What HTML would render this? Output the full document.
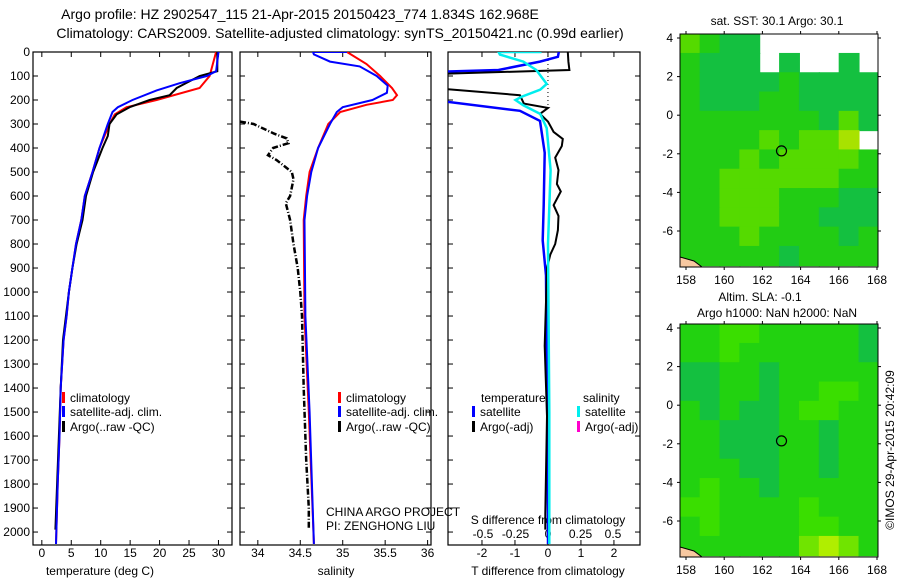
<!DOCTYPE html>
<html><head><meta charset="utf-8"><style>
body{margin:0;background:#fff}
svg{display:block;font-family:"Liberation Sans",sans-serif}
text{font-size:12px;fill:#000}
</style></head><body>
<svg id="c" width="900" height="580" viewBox="0 0 900 580">
<text x="300" y="19" text-anchor="middle" style="font-size:14px">Argo profile: HZ 2902547_115 21-Apr-2015 20150423_774 1.834S 162.968E</text>
<text x="340" y="38" text-anchor="middle" style="font-size:14px">Climatology: CARS2009. Satellite-adjusted climatology: synTS_20150421.nc (0.99d earlier)</text>
<text x="100" y="575" text-anchor="middle">temperature (deg C)</text>
<text x="336" y="575" text-anchor="middle">salinity</text>
<text x="548" y="575" text-anchor="middle">T difference from climatology</text>
<text x="548" y="524" text-anchor="middle">S difference from climatology</text>
<text x="326" y="516">CHINA ARGO PROJECT</text>
<text x="326" y="530">PI: ZENGHONG LIU</text>
<text x="777" y="25" text-anchor="middle">sat. SST: 30.1 Argo: 30.1</text>
<text x="760" y="301" text-anchor="middle">Altim. SLA: -0.1</text>
<text x="777" y="317" text-anchor="middle">Argo h1000: NaN h2000: NaN</text>
<text transform="translate(894,450) rotate(-90)" text-anchor="middle">©IMOS 29-Apr-2015 20:42:09</text>
</svg>
<script>
// ---------- data ----------
const depthTicks=[0,100,200,300,400,500,600,700,800,900,1000,1100,1200,1300,1400,1500,1600,1700,1800,1900,2000];
const tTicks=[0,5,10,15,20,25,30];
const sTicks=[34,34.5,35,35.5,36];
const sTickLabels=["34","34.5","35","35.5","36"];
const dtTicks=[-2,-1,0,1,2];
const dsTicks=[-0.5,-0.25,0,0.25,0.5];
const dsTickLabels=["-0.5","-0.25","0","0.25","0.5"];

const climTDepth=[0,100,150,200,230,260,300,400,500,600,700,800,900,1000,1100,1200,1400,1600,1800,2050];
const climT=[29.6,28.5,26.8,19.5,14.4,12.4,11.5,9.8,8.6,7.3,6.7,5.8,5.2,4.6,4.2,3.7,3.2,3.0,2.7,2.4];
const satTDepth=[0,80,100,130,160,200,230,250,300,400,500,600,700,800,900,1000,1100,1200,1400,1600,1800,2050];
const satT=[30.0,29.6,28.0,23.4,19.5,15.4,12.9,12.0,11.2,9.8,8.6,7.3,6.7,5.8,5.2,4.6,4.2,3.7,3.2,3.0,2.7,2.4];
const argoTDepth=[0,80,100,150,180,200,230,260,300,350,400,500,600,700,800,900,1000,1200,1400,1600,1800,1990];
const argoT=[29.8,29.8,26.8,22.9,21.7,18.3,14.9,12.7,11.5,11.2,10.3,8.7,7.5,6.9,5.9,5.2,4.6,3.6,3.2,2.9,2.6,2.3];

const climSDepth=[0,50,100,150,180,200,220,250,300,400,500,600,700,1100,1500,2050];
const climS=[35.05,35.28,35.44,35.58,35.64,35.59,35.28,34.97,34.83,34.71,34.61,34.57,34.54,34.55,34.60,34.66];
const satSDepth=[0,0,10,40,60,100,140,170,200,230,250,300,400,500,600,700,1100,1500,2050];
const satS=[35.05,34.65,34.66,34.85,35.2,35.4,35.53,35.52,35.35,35.0,34.93,34.85,34.71,34.63,34.58,34.55,34.56,34.61,34.66];
const argoSDepth=[290,300,340,360,380,400,430,450,500,530,600,630,700,800,900,1000,1100,1400,1700,1900,1990];
const argoS=[33.79,33.95,34.19,34.34,34.36,34.18,34.12,34.22,34.4,34.42,34.38,34.33,34.38,34.42,34.47,34.5,34.52,34.54,34.57,34.6,34.6];

const dTsatDepth=[0,20,40,75,83,120,200,245,287,420,637,785,931,1370,1954,2050];
const dTsat=[0.33,0.3,-0.24,-1.5,-3.5,-3.5,-3.5,-0.85,-0.24,-0.1,-0.13,-0.16,-0.06,-0.03,0,0];
const dTargoDepth=[0,40,75,92,150,180,215,233,258,290,333,362,392,440,492,550,581,638,683,742,800,844,900,1224,1517,1925,1990];
const dTargo=[0.6,0.62,0.65,-3.5,-3.5,-0.85,-0.73,0,-0.24,0,0.17,0.45,0.42,0.22,0.32,0.27,0.39,0.17,0.32,0.3,0.22,0.07,-0.03,-0.1,-0.03,-0.08,-0.08];
const dSsatDepth=[0,0,11,40,75,133,157,186,200,222,258,317,492,800,1500,2050];
const dSsat=[-0.05,-0.38,-0.37,-0.19,-0.09,-0.01,-0.06,-0.2,-0.25,-0.19,-0.06,-0.01,0.02,0.0,0.01,0.01];

const mapLonTicks=[158,160,162,164,166,168];
const mapLatTicks=[4,2,0,-2,-4,-6];
const sstGrid=[
[3,2,1,1,0,0,0,0,0,0],
[2,1,1,1,0,1,0,0,1,0],
[2,1,1,1,1,2,1,1,1,1],
[2,1,1,1,2,2,1,1,1,1],
[2,2,2,2,2,2,2,1,3,1],
[2,2,2,2,3,2,3,3,4,0],
[2,2,2,3,2,3,3,3,3,2],
[2,2,3,3,3,3,3,3,2,2],
[2,2,3,3,3,2,2,2,1,1],
[2,2,3,3,3,2,2,1,1,1],
[2,2,2,3,2,2,2,2,1,2],
[2,2,2,2,2,1,2,2,2,2]];
const slaGrid=[
[2,2,3,3,2,2,2,2,2,1],
[2,2,3,2,2,2,2,2,2,1],
[1,1,2,2,1,2,2,2,2,2],
[1,1,2,2,1,2,2,3,3,2],
[2,1,2,1,1,2,3,3,2,2],
[2,2,1,1,1,2,2,1,2,2],
[2,2,1,1,1,2,2,1,2,2],
[2,2,2,1,1,2,2,1,2,2],
[2,3,2,2,1,2,2,2,2,2],
[3,3,2,2,2,2,3,2,2,2],
[2,3,2,2,2,2,3,3,2,2],
[2,2,2,2,2,2,4,5,4,2]];
const argoLon=163.0, argoLat=-1.85;

// ---------- drawing ----------
const svg=document.getElementById('c');
const NS='http://www.w3.org/2000/svg';
function el(tag,at,parent){const e=document.createElementNS(NS,tag);for(const k in at)e.setAttribute(k,at[k]);(parent||svg).appendChild(e);return e;}
const Y0=52,Y1=545,DMAX=2054;
const yD=d=>Y0+(d/DMAX)*(Y1-Y0);
function lin(d0,d1,r0,r1){return v=>r0+(v-d0)/(d1-d0)*(r1-r0);}

function panel(name,x0,x1,xs,ticks,labels,dy){
  const g=el('g',{});
  
  
  el('rect',{x:x0,y:Y0,width:x1-x0,height:Y1-Y0,fill:'none',stroke:'#000','stroke-width':1.2},g);
  depthTicks.forEach(d=>{const y=yD(d);
    el('line',{x1:x0,x2:x0+5,y1:y,y2:y,stroke:'#000'},g);
    el('line',{x1:x1-5,x2:x1,y1:y,y2:y,stroke:'#000'},g);});
  ticks.forEach((t,i)=>{const x=xs(t);
    el('line',{x1:x,x2:x,y1:Y1,y2:Y1-5,stroke:'#000'},g);
    el('line',{x1:x,x2:x,y1:Y0,y2:Y0+5,stroke:'#000'},g);
    const tx=el('text',{x:x,y:dy,'text-anchor':'middle'},g);tx.textContent=labels[i];});
  return g;
}
function line(g,name,xs,vals,deps,color,w,dash){
  const p=el('polyline',{points:vals.map((v,i)=>xs(v).toFixed(1)+','+yD(deps[i]).toFixed(1)).join(' '),fill:'none',stroke:color,'stroke-width':w},g);
  if(dash)p.setAttribute('stroke-dasharray',dash);
  
  
}
function clip(id,x0,x1){const c=el('clipPath',{id:id});el('rect',{x:x0,y:Y0,width:x1-x0,height:Y1-Y0},c);return 'url(#'+id+')';}

depthTicks.forEach(d=>{const t=el('text',{x:30,y:yD(d)+4,'text-anchor':'end'});t.textContent=d;
  
  });

const xT=lin(-1.5,32.3,33,232);
const p1=panel('temperature-panel',33,232,xT,tTicks,tTicks.map(String),557);
const g1=el('g',{'clip-path':clip('c1',33,232)},p1);
line(g1,'clim-temperature-line',xT,climT,climTDepth,'#f00',2);
line(g1,'argo-temperature-line',xT,argoT,argoTDepth,'#000',2);
line(g1,'sat-temperature-line',xT,satT,satTDepth,'#00f',2);

const xS=lin(33.79,36.04,240,431);
const p2=panel('salinity-panel',240,431,xS,sTicks,sTickLabels,557);
const g2=el('g',{'clip-path':clip('c2',240,431)},p2);
line(g2,'clim-salinity-line',xS,climS,climSDepth,'#f00',2);
line(g2,'sat-salinity-line',xS,satS,satSDepth,'#00f',2);
line(g2,'argo-salinity-line',xS,argoS,argoSDepth,'#000',2.5,'6 2 1 2');

const xDT=lin(-3.03,2.79,448,640);
const xDS=v=>548+v*130;
const p3=panel('difference-panel',448,640,xDT,dtTicks,dtTicks.map(String),557);
dsTicks.forEach((t,i)=>{const tx=el('text',{x:xDS(t),y:538,'text-anchor':'middle'},p3);tx.textContent=dsTickLabels[i];});
const g3=el('g',{'clip-path':clip('c3',448,640)},p3);
el('line',{x1:xDT(0),x2:xDT(0),y1:Y0,y2:yD(230),stroke:'#000','stroke-dasharray':'1 3'},g3);
line(g3,'sat-t-diff-line',xDT,dTsat,dTsatDepth,'#00f',2.5);
line(g3,'argo-t-diff-line',xDT,dTargo,dTargoDepth,'#000',2);
line(g3,'sat-s-diff-line',xDS,dSsat,dSsatDepth,'#0ee',2.5);

function legend(x,y,color,label,name){
  const g=el('g',{});
  
  
  el('rect',{x:x,y:y-9,width:3,height:11,fill:color},g);
  const t=el('text',{x:x+8,y:y+1},g);t.textContent=label;
}
legend(62,401,'#f00','climatology','legend-climatology');
legend(62,415,'#00f','satellite-adj. clim.','legend-satellite-adj');
legend(62,430,'#000','Argo(..raw -QC)','legend-argo');
legend(338,401,'#f00','climatology','legend2-climatology');
legend(338,415,'#00f','satellite-adj. clim.','legend2-satellite-adj');
legend(338,430,'#000','Argo(..raw -QC)','legend2-argo');
(()=>{const t=el('text',{x:481,y:402});t.textContent='temperature';
 const t2=el('text',{x:583,y:402});t2.textContent='salinity';})();
legend(472,415,'#00f','satellite','legend-t-satellite');
legend(472,430,'#000','Argo(-adj)','legend-t-argo');
legend(577,415,'#0ee','satellite','legend-s-satellite');
legend(577,430,'#f0c','Argo(-adj)','legend-s-argo');

function map(name,top,grid,colors){
  const x0=680,x1=878,bottom=top+233;
  const xL=lin(158,168,686,877);
  const yL=lin(4,-6,top+4,top+197);
  const g=el('g',{});
  
  
  const cid='m'+top;const c=el('clipPath',{id:cid});el('rect',{x:x0,y:top,width:x1-x0,height:bottom-top},c);
  const gg=el('g',{'clip-path':'url(#'+cid+')'},g);
  grid.forEach((row,r)=>row.forEach((v,ci)=>{
    if(!v)return;
    const lx=157.7+ci*1.04, la=4.2-r;
    const rc=el('rect',{x:xL(lx)-0.5,y:yL(la)-0.5,width:xL(lx+1.04)-xL(lx)+1,height:yL(la-1)-yL(la)+1,fill:colors[v]},gg);
    
    
  }));
  el('polygon',{points:`${x0},${bottom-10} ${x0+14},${bottom-6} ${x0+22},${bottom} ${x0},${bottom}`,fill:'#f8c8a0',stroke:'#000','stroke-width':1},gg);
  el('rect',{x:x0,y:top,width:x1-x0,height:bottom-top,fill:'none',stroke:'#000'},g);
  const ci=el('circle',{cx:xL(argoLon),cy:yL(argoLat),r:5,fill:'none',stroke:'#000','stroke-width':1.2},g);
  
  
  mapLonTicks.forEach(t=>{const x=xL(t);
    el('line',{x1:x,x2:x,y1:top,y2:top-3,stroke:'#000'},g);
    el('line',{x1:x,x2:x,y1:bottom,y2:bottom+3,stroke:'#000'},g);
    const tx=el('text',{x:x,y:bottom+17,'text-anchor':'middle'},g);tx.textContent=t;});
  mapLatTicks.forEach(t=>{const y=yL(t);
    el('line',{x1:x0,x2:x0-3,y1:y,y2:y,stroke:'#000'},g);
    el('line',{x1:x1,x2:x1+3,y1:y,y2:y,stroke:'#000'},g);
    const tx=el('text',{x:673,y:y+4,'text-anchor':'end'},g);tx.textContent=t;});
}
map('sst-map',34,sstGrid,{1:'#14c040',2:'#22cc14',3:'#55da00',4:'#a8e200'});
map('sla-map',324,slaGrid,{1:'#14c040',2:'#22d210',3:'#3ade00',4:'#70e400',5:'#b0ee00'});
</script>
</body></html>
